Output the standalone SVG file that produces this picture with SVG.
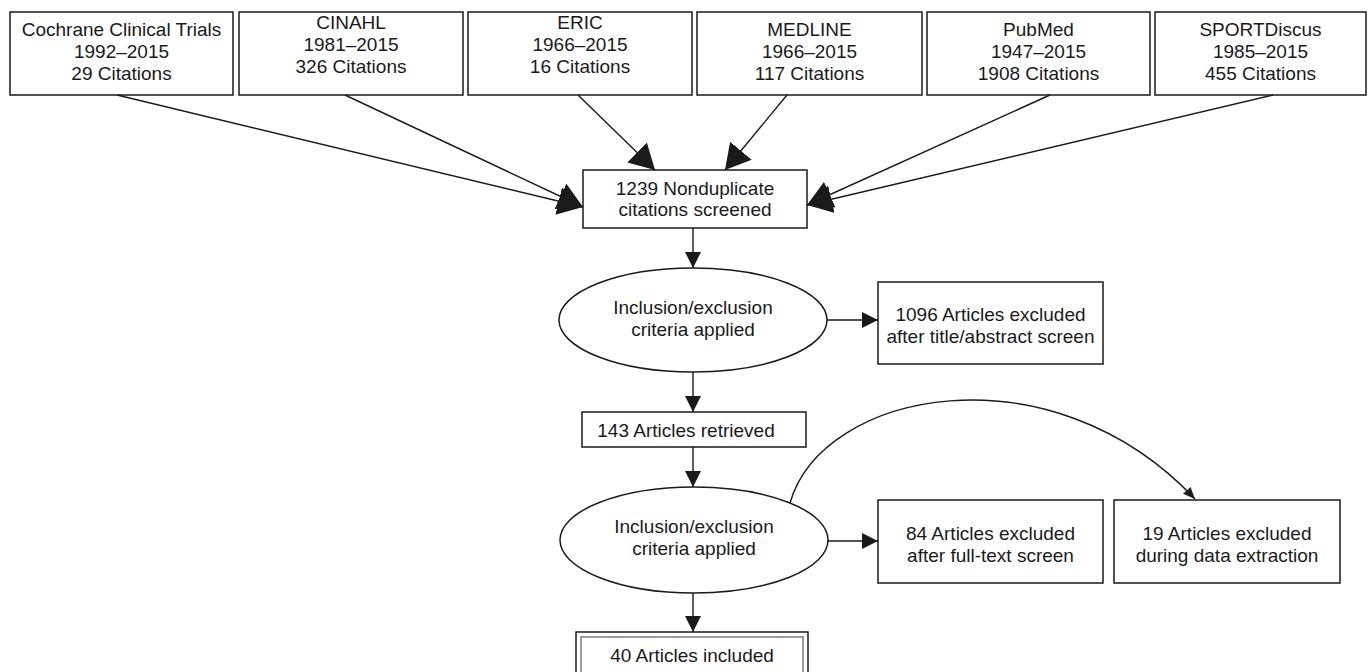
<svg xmlns="http://www.w3.org/2000/svg" width="1368" height="672" viewBox="0 0 1368 672">
<style>
.box{fill:#fff;stroke:#1a1a1a;stroke-width:1.5}
.inner{fill:none;stroke:#9a9a9a;stroke-width:2}
.t{font-family:"Liberation Sans",Arial,sans-serif;font-size:19px;fill:#1a1a1a;text-anchor:middle}
.c{fill:none;stroke:#1a1a1a;stroke-width:1.4}
</style>
<defs>
<marker id="big" markerUnits="userSpaceOnUse" markerWidth="26" markerHeight="28" viewBox="0 0 26 28" refX="25" refY="14" orient="auto"><path d="M0,0 L25,14 L0,28 z" fill="#1a1a1a"/></marker>
<marker id="sm" markerUnits="userSpaceOnUse" markerWidth="17" markerHeight="16" viewBox="0 0 17 16" refX="16" refY="8" orient="auto"><path d="M0,0 L16,8 L0,16 z" fill="#1a1a1a"/></marker>
<marker id="tiny" markerUnits="userSpaceOnUse" markerWidth="13" markerHeight="10" viewBox="0 0 13 10" refX="12" refY="5" orient="auto"><path d="M0,0 L12,5 L0,10 z" fill="#1a1a1a"/></marker>
</defs>
<rect width="1368" height="672" fill="#fff"/>

<g id="cochrane"><rect class="box" x="10" y="12" width="223" height="83"/>
<text class="t" x="121.5" y="36">Cochrane Clinical Trials</text><text class="t" x="121.5" y="58">1992–2015</text><text class="t" x="121.5" y="80">29 Citations</text></g>
<g id="cinahl"><rect class="box" x="239" y="12" width="224" height="83"/>
<text class="t" x="351" y="29">CINAHL</text><text class="t" x="351" y="51">1981–2015</text><text class="t" x="351" y="73">326 Citations</text></g>
<g id="eric"><rect class="box" x="468" y="12" width="224" height="83"/>
<text class="t" x="580" y="29">ERIC</text><text class="t" x="580" y="51">1966–2015</text><text class="t" x="580" y="73">16 Citations</text></g>
<g id="medline"><rect class="box" x="697" y="12" width="225" height="83"/>
<text class="t" x="809.5" y="36">MEDLINE</text><text class="t" x="809.5" y="58">1966–2015</text><text class="t" x="809.5" y="80">117 Citations</text></g>
<g id="pubmed"><rect class="box" x="927" y="12" width="223" height="83"/>
<text class="t" x="1038.5" y="36">PubMed</text><text class="t" x="1038.5" y="58">1947–2015</text><text class="t" x="1038.5" y="80">1908 Citations</text></g>
<g id="sportdiscus"><rect class="box" x="1155" y="12" width="211" height="83"/>
<text class="t" x="1260.5" y="36">SPORTDiscus</text><text class="t" x="1260.5" y="58">1985–2015</text><text class="t" x="1260.5" y="80">455 Citations</text></g>

<g id="nondup"><rect class="box" x="583" y="170" width="224" height="58"/>
<text class="t" x="695" y="195">1239 Nonduplicate</text><text class="t" x="695" y="216">citations screened</text></g>

<g id="criteria1"><ellipse class="box" cx="693" cy="320" rx="134" ry="52"/>
<text class="t" x="693" y="314">Inclusion/exclusion</text><text class="t" x="693" y="336">criteria applied</text></g>

<g id="excl1096"><rect class="box" x="878" y="282" width="225" height="82"/>
<text class="t" x="990.5" y="321">1096 Articles excluded</text><text class="t" x="990.5" y="343">after title/abstract screen</text></g>

<g id="retrieved"><rect class="box" x="582" y="412" width="224" height="35"/>
<text class="t" x="686" y="437">143 Articles retrieved</text></g>

<g id="criteria2"><ellipse class="box" cx="694" cy="540" rx="134" ry="53"/>
<text class="t" x="694" y="533">Inclusion/exclusion</text><text class="t" x="694" y="555">criteria applied</text></g>

<g id="excl84"><rect class="box" x="878" y="500" width="225" height="83"/>
<text class="t" x="990.5" y="540">84 Articles excluded</text><text class="t" x="990.5" y="562">after full-text screen</text></g>

<g id="excl19"><rect class="box" x="1114" y="500" width="226" height="83"/>
<text class="t" x="1227" y="540">19 Articles excluded</text><text class="t" x="1227" y="562">during data extraction</text></g>

<g id="included"><rect class="box" x="576" y="632" width="232" height="60"/>
<rect class="inner" x="581" y="637" width="222" height="60"/>
<text class="t" x="692" y="662">40 Articles included</text></g>

<g id="connectors">
<line class="c" x1="117" y1="95" x2="583" y2="207" marker-end="url(#big)"/>
<line class="c" x1="345" y1="95" x2="583" y2="207" marker-end="url(#big)"/>
<line class="c" x1="578" y1="95" x2="655" y2="170" marker-end="url(#big)"/>
<line class="c" x1="787" y1="95" x2="725" y2="170" marker-end="url(#big)"/>
<line class="c" x1="1050" y1="95" x2="807" y2="205" marker-end="url(#big)"/>
<line class="c" x1="1273" y1="95" x2="807" y2="205" marker-end="url(#big)"/>
<line class="c" x1="693" y1="228" x2="693" y2="268" marker-end="url(#sm)"/>
<line class="c" x1="827" y1="320" x2="878" y2="320" marker-end="url(#sm)"/>
<line class="c" x1="693" y1="372" x2="693" y2="412" marker-end="url(#sm)"/>
<line class="c" x1="693" y1="447" x2="693" y2="487" marker-end="url(#sm)"/>
<line class="c" x1="828" y1="541" x2="878" y2="541" marker-end="url(#sm)"/>
<line class="c" x1="693" y1="593" x2="693" y2="632" marker-end="url(#sm)"/>
<path class="c" d="M790,503 C822,390 1050,345 1195,499" marker-end="url(#tiny)"/>
</g>
</svg>
